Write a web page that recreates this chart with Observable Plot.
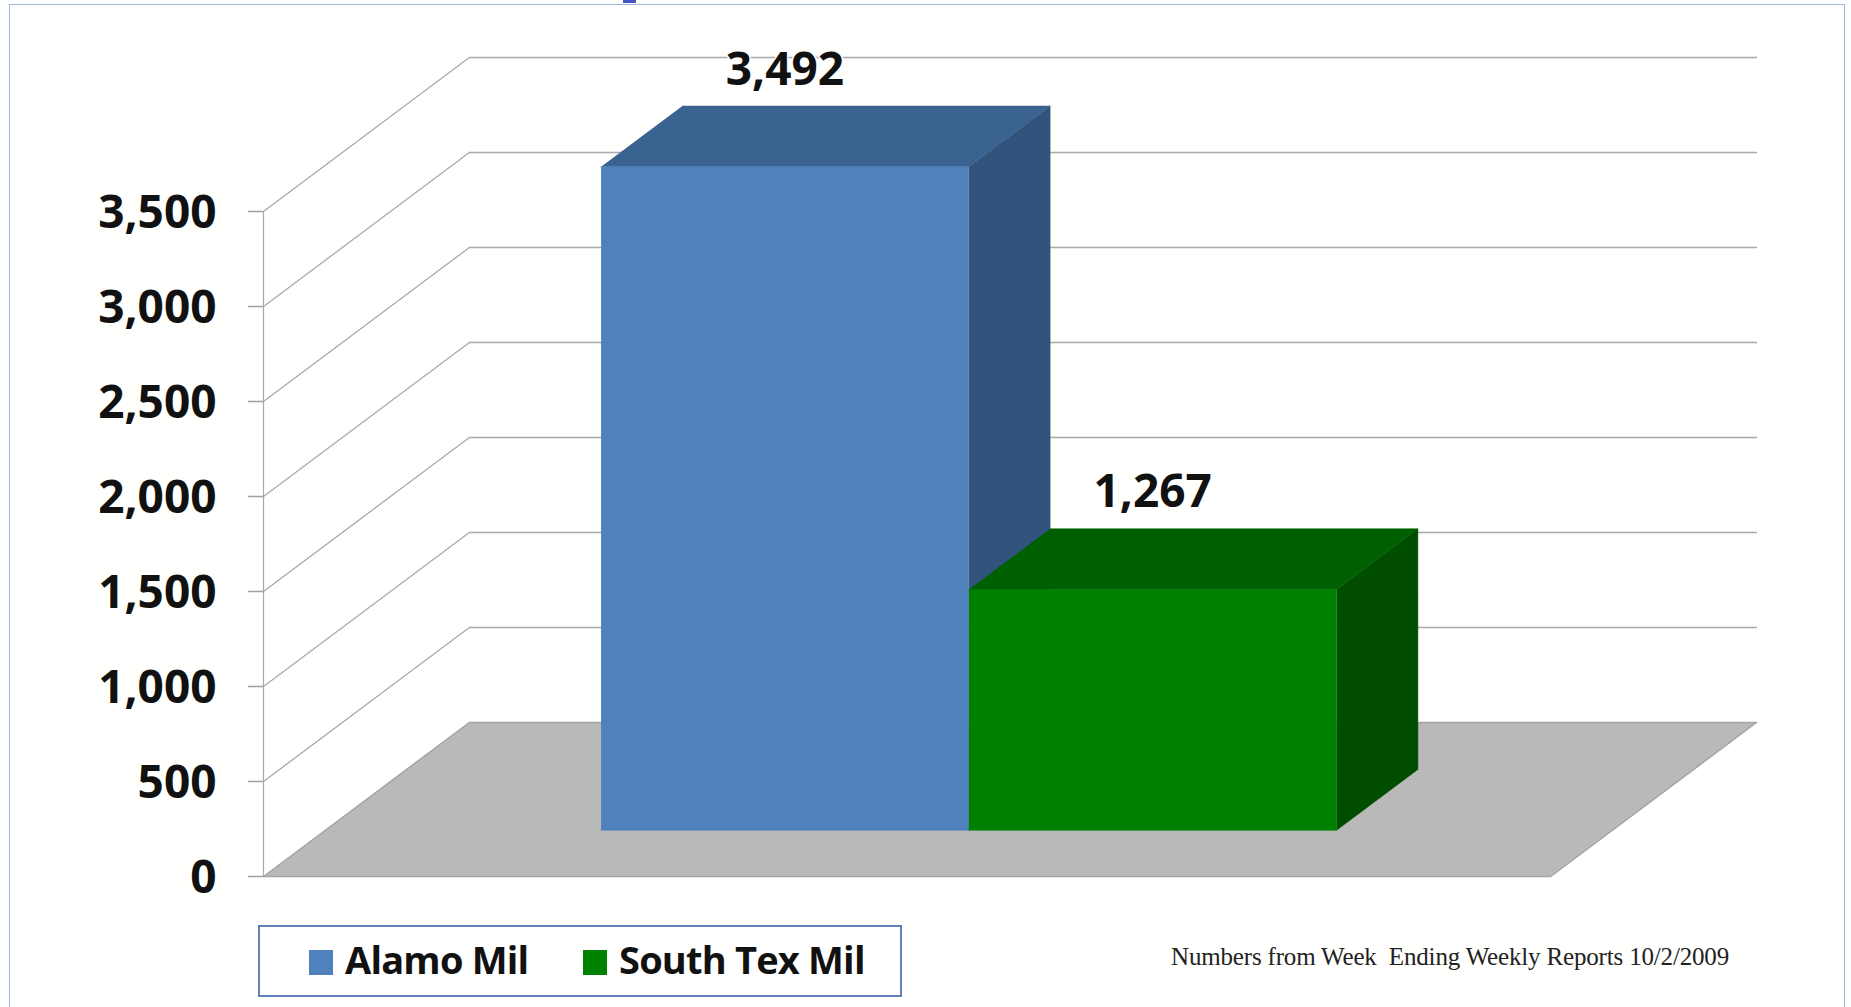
<!DOCTYPE html>
<html>
<head>
<meta charset="utf-8">
<script src="https://cdn.jsdelivr.net/npm/d3@7"></script>
<script src="https://cdn.jsdelivr.net/npm/@observablehq/plot@0.6"></script>
<style>
  html, body { margin: 0; padding: 0; background: #fff; width: 1851px; height: 1007px; overflow: hidden; }
  #frame { position: absolute; left: 9px; top: 4px; width: 1834px; height: 1010px; border: 1.5px solid #9dbbe0; background: #fffffe; }
  #mark { position: absolute; left: 623px; top: 0; width: 13px; height: 3px; background: #4a55c4; }
  #chart { position: absolute; left: 0; top: 0; }
  #legend { position: absolute; left: 258px; top: 925px; width: 640px; height: 68px; border: 2px solid #5f82b8; background: #fff;
            font: 700 38px "Open Sans", sans-serif; color: #111; }
  #legend .sw { position: absolute; top: 23px; width: 24px; height: 25px; }
  #legend .lb { position: absolute; top: 6px; line-height: 52px; white-space: nowrap; letter-spacing: -0.8px; }
  #caption { position: absolute; left: 1171px; top: 943px; font: 25px/28px "Liberation Serif", serif; color: #222; white-space: pre; letter-spacing: -0.17px; }
</style>
</head>
<body>
<div id="frame"></div>
<div id="mark"></div>
<div id="chart"></div>
<div id="legend"></div>
<div id="caption"></div>
<script>
const categories = ["Alamo Mil", "South Tex Mil"];
const values = [3492, 1267];
const valueLabels = ["3,492", "1,267"];
const frontColors = ["#4f81bd", "#008000"];
const topColors = ["#3b6391", "#005f00"];
const sideColors = ["#32537b", "#004d00"];
const tickValues = [0, 500, 1000, 1500, 2000, 2500, 3000, 3500];
const caption = "Numbers from Week  Ending Weekly Reports 10/2/2009";

// Oblique projection of the 3-D category chart
const floorWidth = 3.5, barStart = 0.75, barWidth = 1;
const depthX = 0.5598, depthY = 810.5;
const barFront = 0.3, barBack = 0.695;
const pt = (x, v, d) => ({x: x + d * depthX, y: v + d * depthY});

const marks = [];
const face = (points, fill) => marks.push(Plot.line(points, {x: "x", y: "y", fill, stroke: fill, strokeWidth: 0.5}));

// floor
marks.push(Plot.line([pt(0,0,0), pt(floorWidth,0,0), pt(floorWidth,0,1), pt(0,0,1), pt(0,0,0)],
  {x: "x", y: "y", fill: "#b9b9b9", stroke: "#a4a4a4", strokeWidth: 1.5}));

// walls' gridlines
tickValues.filter(t => t > 0).forEach(t => {
  marks.push(Plot.line([pt(0,t,0), pt(0,t,1), pt(floorWidth,t,1)], {x: "x", y: "y", stroke: "#a9a9a9", strokeWidth: 1.3}));
});
marks.push(Plot.ruleX([0], {y1: 0, y2: tickValues[tickValues.length - 1], stroke: "#a9a9a9", strokeWidth: 1.2}));

// bars
categories.forEach((c, i) => {
  const x0 = barStart + i * barWidth, x1 = x0 + barWidth, v = values[i];
  face([pt(x1,0,barFront), pt(x1,0,barBack), pt(x1,v,barBack), pt(x1,v,barFront)], sideColors[i]);
  face([pt(x0,v,barFront), pt(x1,v,barFront), pt(x1,v,barBack), pt(x0,v,barBack)], topColors[i]);
  face([pt(x0,0,barFront), pt(x1,0,barFront), pt(x1,v,barFront), pt(x0,v,barFront)], frontColors[i]);
});

// value labels
const labelRows = categories.map((c, i) => {
  const p = pt(barStart + (i + 0.5) * barWidth, values[i], barBack);
  return {x: p.x - (barBack - barFront) * depthX, y: p.y, text: valueLabels[i]};
});
marks.push(Plot.text(labelRows, {x: "x", y: "y", text: "text", dy: -36, fontSize: 46, fontWeight: 700, fill: "#111",
  stroke: "white", strokeWidth: 3, paintOrder: "stroke", letterSpacing: "2.2px"}));

// value axis: tick marks, then the labels
marks.push(Plot.axisY({ticks: tickValues, tickFormat: () => "", tickSize: 15, label: null,
  stroke: "#a0a0a0", strokeWidth: 1.5}));
marks.push(Plot.axisY({ticks: tickValues, tickFormat: d3.format(","), tickSize: 0, tickPadding: 47, label: null,
  fontSize: 46, fontWeight: 700, fill: "#111", dy: 2, letterSpacing: "2.2px"}));

const plot = Plot.plot({
  width: 1851, height: 915,
  marginLeft: 263, marginRight: 95, marginTop: 57, marginBottom: 39,
  x: {domain: [0, floorWidth + depthX], axis: null},
  y: {domain: [0, tickValues[tickValues.length - 1] + depthY]},
  style: {background: "transparent", fontFamily: "'Open Sans', sans-serif", overflow: "visible"},
  marks
});
document.getElementById("chart").append(plot);

// legend and source line
const legend = document.getElementById("legend");
const swatchLeft = [49, 323], labelLeft = [85, 359];
categories.forEach((c, i) => {
  const s = document.createElement("div");
  s.className = "sw"; s.style.left = swatchLeft[i] + "px"; s.style.background = frontColors[i];
  const l = document.createElement("div");
  l.className = "lb"; l.style.left = labelLeft[i] + "px"; l.textContent = c;
  legend.append(s, l);
});
document.getElementById("caption").textContent = caption;
</script>
</body>
</html>
